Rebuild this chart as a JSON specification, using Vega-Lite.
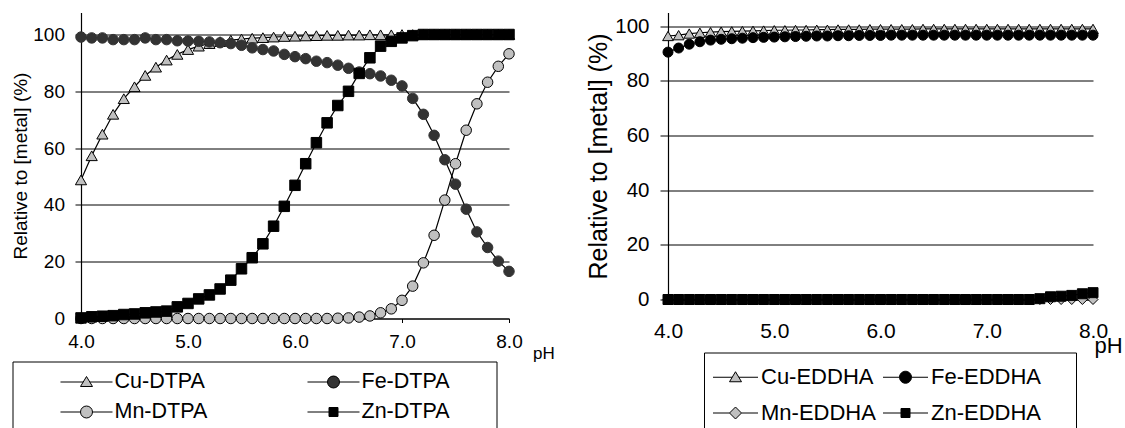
{
  "$schema": "https://vega.github.io/schema/vega-lite/v6.json",
  "padding": {"left": 11, "top": 12.5, "right": 0, "bottom": 0},
  "spacing": 31,
  "resolve": {"scale": {"shape": "independent", "fill": "independent", "stroke": "independent"}, "legend": {"shape": "independent", "fill": "independent", "stroke": "independent"}},
  "datasets": {
    "dtpa": [
      {"pH": 4.0, "Cu-DTPA": 48.8, "Fe-DTPA": 99.1, "Mn-DTPA": 0, "Zn-DTPA": 0.2},
      {"pH": 4.1, "Cu-DTPA": 57.3, "Fe-DTPA": 98.8, "Mn-DTPA": 0, "Zn-DTPA": 0.6},
      {"pH": 4.2, "Cu-DTPA": 64.9, "Fe-DTPA": 98.8, "Mn-DTPA": 0, "Zn-DTPA": 0.8},
      {"pH": 4.3, "Cu-DTPA": 71.9, "Fe-DTPA": 98.2, "Mn-DTPA": 0, "Zn-DTPA": 1.0},
      {"pH": 4.4, "Cu-DTPA": 77.4, "Fe-DTPA": 98.2, "Mn-DTPA": 0, "Zn-DTPA": 1.4},
      {"pH": 4.5, "Cu-DTPA": 81.6, "Fe-DTPA": 98.2, "Mn-DTPA": 0, "Zn-DTPA": 1.6},
      {"pH": 4.6, "Cu-DTPA": 85.6, "Fe-DTPA": 98.8, "Mn-DTPA": 0, "Zn-DTPA": 2.0},
      {"pH": 4.7, "Cu-DTPA": 88.5, "Fe-DTPA": 98.2, "Mn-DTPA": 0, "Zn-DTPA": 2.3},
      {"pH": 4.8, "Cu-DTPA": 91.0, "Fe-DTPA": 98.2, "Mn-DTPA": 0, "Zn-DTPA": 2.6},
      {"pH": 4.9, "Cu-DTPA": 93.0, "Fe-DTPA": 97.8, "Mn-DTPA": 0, "Zn-DTPA": 4.1},
      {"pH": 5.0, "Cu-DTPA": 94.7, "Fe-DTPA": 97.7, "Mn-DTPA": 0, "Zn-DTPA": 5.3},
      {"pH": 5.1, "Cu-DTPA": 95.9, "Fe-DTPA": 97.6, "Mn-DTPA": 0, "Zn-DTPA": 6.9},
      {"pH": 5.2, "Cu-DTPA": 96.8, "Fe-DTPA": 97.4, "Mn-DTPA": 0, "Zn-DTPA": 8.3},
      {"pH": 5.3, "Cu-DTPA": 97.5, "Fe-DTPA": 97.1, "Mn-DTPA": 0, "Zn-DTPA": 10.4},
      {"pH": 5.4, "Cu-DTPA": 98.0, "Fe-DTPA": 96.8, "Mn-DTPA": 0, "Zn-DTPA": 13.5},
      {"pH": 5.5, "Cu-DTPA": 98.4, "Fe-DTPA": 96.2, "Mn-DTPA": 0, "Zn-DTPA": 17.5},
      {"pH": 5.6, "Cu-DTPA": 98.7, "Fe-DTPA": 95.3, "Mn-DTPA": 0, "Zn-DTPA": 21.4},
      {"pH": 5.7, "Cu-DTPA": 98.9, "Fe-DTPA": 94.7, "Mn-DTPA": 0, "Zn-DTPA": 26.3},
      {"pH": 5.8, "Cu-DTPA": 99.1, "Fe-DTPA": 94.2, "Mn-DTPA": 0, "Zn-DTPA": 32.5},
      {"pH": 5.9, "Cu-DTPA": 99.3, "Fe-DTPA": 93.0, "Mn-DTPA": 0, "Zn-DTPA": 39.5},
      {"pH": 6.0, "Cu-DTPA": 99.4, "Fe-DTPA": 92.2, "Mn-DTPA": 0, "Zn-DTPA": 46.9},
      {"pH": 6.1, "Cu-DTPA": 99.5, "Fe-DTPA": 91.5, "Mn-DTPA": 0, "Zn-DTPA": 54.5},
      {"pH": 6.2, "Cu-DTPA": 99.6, "Fe-DTPA": 90.6, "Mn-DTPA": 0, "Zn-DTPA": 61.9},
      {"pH": 6.3, "Cu-DTPA": 99.7, "Fe-DTPA": 90.1, "Mn-DTPA": 0, "Zn-DTPA": 68.9},
      {"pH": 6.4, "Cu-DTPA": 99.7, "Fe-DTPA": 89.2, "Mn-DTPA": 0.1, "Zn-DTPA": 75.0},
      {"pH": 6.5, "Cu-DTPA": 99.8, "Fe-DTPA": 88.1, "Mn-DTPA": 0.2, "Zn-DTPA": 80.0},
      {"pH": 6.6, "Cu-DTPA": 99.8, "Fe-DTPA": 86.8, "Mn-DTPA": 0.5, "Zn-DTPA": 86.3},
      {"pH": 6.7, "Cu-DTPA": 99.9, "Fe-DTPA": 86.2, "Mn-DTPA": 0.9, "Zn-DTPA": 91.8},
      {"pH": 6.8, "Cu-DTPA": 99.9, "Fe-DTPA": 85.4, "Mn-DTPA": 2.0, "Zn-DTPA": 95.9},
      {"pH": 6.9, "Cu-DTPA": 99.9, "Fe-DTPA": 83.9, "Mn-DTPA": 3.4, "Zn-DTPA": 97.6},
      {"pH": 7.0, "Cu-DTPA": 100, "Fe-DTPA": 81.9, "Mn-DTPA": 6.4, "Zn-DTPA": 98.8},
      {"pH": 7.1, "Cu-DTPA": 100, "Fe-DTPA": 77.5, "Mn-DTPA": 11.4, "Zn-DTPA": 99.6},
      {"pH": 7.2, "Cu-DTPA": 100, "Fe-DTPA": 71.9, "Mn-DTPA": 19.6, "Zn-DTPA": 100},
      {"pH": 7.3, "Cu-DTPA": 100, "Fe-DTPA": 64.5, "Mn-DTPA": 29.3, "Zn-DTPA": 100},
      {"pH": 7.4, "Cu-DTPA": 100, "Fe-DTPA": 55.9, "Mn-DTPA": 41.7, "Zn-DTPA": 100},
      {"pH": 7.5, "Cu-DTPA": 100, "Fe-DTPA": 47.3, "Mn-DTPA": 54.5, "Zn-DTPA": 100},
      {"pH": 7.6, "Cu-DTPA": 100, "Fe-DTPA": 38.5, "Mn-DTPA": 66.3, "Zn-DTPA": 100},
      {"pH": 7.7, "Cu-DTPA": 100, "Fe-DTPA": 30.5, "Mn-DTPA": 75.6, "Zn-DTPA": 100},
      {"pH": 7.8, "Cu-DTPA": 100, "Fe-DTPA": 25.0, "Mn-DTPA": 83.2, "Zn-DTPA": 100},
      {"pH": 7.9, "Cu-DTPA": 100, "Fe-DTPA": 20.2, "Mn-DTPA": 88.8, "Zn-DTPA": 100},
      {"pH": 8.0, "Cu-DTPA": 100, "Fe-DTPA": 16.6, "Mn-DTPA": 93.2, "Zn-DTPA": 100}
    ],
    "eddha": [
      {"pH": 4.0, "Cu-EDDHA": 96.4, "Fe-EDDHA": 90.5, "Mn-EDDHA": 0, "Zn-EDDHA": 0},
      {"pH": 4.1, "Cu-EDDHA": 96.7, "Fe-EDDHA": 92.0, "Mn-EDDHA": 0, "Zn-EDDHA": 0},
      {"pH": 4.2, "Cu-EDDHA": 97.3, "Fe-EDDHA": 93.4, "Mn-EDDHA": 0, "Zn-EDDHA": 0},
      {"pH": 4.3, "Cu-EDDHA": 97.6, "Fe-EDDHA": 94.3, "Mn-EDDHA": 0, "Zn-EDDHA": 0},
      {"pH": 4.4, "Cu-EDDHA": 97.8, "Fe-EDDHA": 94.9, "Mn-EDDHA": 0, "Zn-EDDHA": 0},
      {"pH": 4.5, "Cu-EDDHA": 98.0, "Fe-EDDHA": 95.2, "Mn-EDDHA": 0, "Zn-EDDHA": 0},
      {"pH": 4.6, "Cu-EDDHA": 98.1, "Fe-EDDHA": 95.4, "Mn-EDDHA": 0, "Zn-EDDHA": 0},
      {"pH": 4.7, "Cu-EDDHA": 98.2, "Fe-EDDHA": 95.6, "Mn-EDDHA": 0, "Zn-EDDHA": 0},
      {"pH": 4.8, "Cu-EDDHA": 98.3, "Fe-EDDHA": 95.8, "Mn-EDDHA": 0, "Zn-EDDHA": 0},
      {"pH": 4.9, "Cu-EDDHA": 98.4, "Fe-EDDHA": 95.9, "Mn-EDDHA": 0, "Zn-EDDHA": 0},
      {"pH": 5.0, "Cu-EDDHA": 98.5, "Fe-EDDHA": 96.0, "Mn-EDDHA": 0, "Zn-EDDHA": 0},
      {"pH": 5.1, "Cu-EDDHA": 98.5, "Fe-EDDHA": 96.1, "Mn-EDDHA": 0, "Zn-EDDHA": 0},
      {"pH": 5.2, "Cu-EDDHA": 98.6, "Fe-EDDHA": 96.2, "Mn-EDDHA": 0, "Zn-EDDHA": 0},
      {"pH": 5.3, "Cu-EDDHA": 98.6, "Fe-EDDHA": 96.3, "Mn-EDDHA": 0, "Zn-EDDHA": 0},
      {"pH": 5.4, "Cu-EDDHA": 98.7, "Fe-EDDHA": 96.4, "Mn-EDDHA": 0, "Zn-EDDHA": 0},
      {"pH": 5.5, "Cu-EDDHA": 98.7, "Fe-EDDHA": 96.4, "Mn-EDDHA": 0, "Zn-EDDHA": 0},
      {"pH": 5.6, "Cu-EDDHA": 98.8, "Fe-EDDHA": 96.5, "Mn-EDDHA": 0, "Zn-EDDHA": 0},
      {"pH": 5.7, "Cu-EDDHA": 98.8, "Fe-EDDHA": 96.5, "Mn-EDDHA": 0, "Zn-EDDHA": 0},
      {"pH": 5.8, "Cu-EDDHA": 98.8, "Fe-EDDHA": 96.6, "Mn-EDDHA": 0, "Zn-EDDHA": 0},
      {"pH": 5.9, "Cu-EDDHA": 98.9, "Fe-EDDHA": 96.6, "Mn-EDDHA": 0, "Zn-EDDHA": 0},
      {"pH": 6.0, "Cu-EDDHA": 98.9, "Fe-EDDHA": 96.6, "Mn-EDDHA": 0, "Zn-EDDHA": 0},
      {"pH": 6.1, "Cu-EDDHA": 98.9, "Fe-EDDHA": 96.7, "Mn-EDDHA": 0, "Zn-EDDHA": 0},
      {"pH": 6.2, "Cu-EDDHA": 98.9, "Fe-EDDHA": 96.7, "Mn-EDDHA": 0, "Zn-EDDHA": 0},
      {"pH": 6.3, "Cu-EDDHA": 98.9, "Fe-EDDHA": 96.7, "Mn-EDDHA": 0, "Zn-EDDHA": 0},
      {"pH": 6.4, "Cu-EDDHA": 99.0, "Fe-EDDHA": 96.7, "Mn-EDDHA": 0, "Zn-EDDHA": 0},
      {"pH": 6.5, "Cu-EDDHA": 99.0, "Fe-EDDHA": 96.7, "Mn-EDDHA": 0, "Zn-EDDHA": 0},
      {"pH": 6.6, "Cu-EDDHA": 99.0, "Fe-EDDHA": 96.7, "Mn-EDDHA": 0, "Zn-EDDHA": 0},
      {"pH": 6.7, "Cu-EDDHA": 99.0, "Fe-EDDHA": 96.7, "Mn-EDDHA": 0, "Zn-EDDHA": 0},
      {"pH": 6.8, "Cu-EDDHA": 99.0, "Fe-EDDHA": 96.7, "Mn-EDDHA": 0, "Zn-EDDHA": 0},
      {"pH": 6.9, "Cu-EDDHA": 99.0, "Fe-EDDHA": 96.7, "Mn-EDDHA": 0, "Zn-EDDHA": 0},
      {"pH": 7.0, "Cu-EDDHA": 99.0, "Fe-EDDHA": 96.7, "Mn-EDDHA": 0, "Zn-EDDHA": 0},
      {"pH": 7.1, "Cu-EDDHA": 99.0, "Fe-EDDHA": 96.7, "Mn-EDDHA": 0, "Zn-EDDHA": 0},
      {"pH": 7.2, "Cu-EDDHA": 99.0, "Fe-EDDHA": 96.7, "Mn-EDDHA": 0, "Zn-EDDHA": 0},
      {"pH": 7.3, "Cu-EDDHA": 99.0, "Fe-EDDHA": 96.7, "Mn-EDDHA": 0, "Zn-EDDHA": 0},
      {"pH": 7.4, "Cu-EDDHA": 99.0, "Fe-EDDHA": 96.7, "Mn-EDDHA": 0, "Zn-EDDHA": 0},
      {"pH": 7.5, "Cu-EDDHA": 99.0, "Fe-EDDHA": 96.7, "Mn-EDDHA": 0, "Zn-EDDHA": 0.3},
      {"pH": 7.6, "Cu-EDDHA": 99.0, "Fe-EDDHA": 96.7, "Mn-EDDHA": 0, "Zn-EDDHA": 1.0},
      {"pH": 7.7, "Cu-EDDHA": 99.0, "Fe-EDDHA": 96.7, "Mn-EDDHA": 0, "Zn-EDDHA": 1.2},
      {"pH": 7.8, "Cu-EDDHA": 99.0, "Fe-EDDHA": 96.7, "Mn-EDDHA": 0, "Zn-EDDHA": 1.5},
      {"pH": 7.9, "Cu-EDDHA": 99.0, "Fe-EDDHA": 96.7, "Mn-EDDHA": 0, "Zn-EDDHA": 2.1},
      {"pH": 8.0, "Cu-EDDHA": 99.0, "Fe-EDDHA": 96.7, "Mn-EDDHA": 0, "Zn-EDDHA": 2.5}
    ]
  },
  "hconcat": [
    {
      "width": 428,
      "height": 306,
      "data": {"name": "dtpa"},
      "transform": [{"fold": ["Cu-DTPA", "Fe-DTPA", "Mn-DTPA", "Zn-DTPA"], "as": ["series", "value"]}],
      "encoding": {
        "x": {"field": "pH", "type": "quantitative", "scale": {"domain": [4, 8], "nice": false, "zero": false},
          "axis": {"values": [4, 5, 6, 7, 8], "format": ".1f", "grid": false, "tickSize": 4, "labelFontSize": 19, "labelPadding": 9.6, "labelFlush": false,
            "title": "pH", "titleFontSize": 17, "titleFontWeight": "normal", "titleX": 451.5, "titleY": 40, "titleAlign": "left", "titleBaseline": "alphabetic"}},
        "y": {"field": "value", "type": "quantitative", "scale": {"domain": [0, 107.75], "nice": false},
          "axis": {"values": [0, 20, 40, 60, 80, 100], "grid": true, "tickSize": 6, "labelPadding": 10.5, "labelFontSize": 19, "labelFlush": false,
            "title": "Relative to [metal] (%)", "titleFontSize": 19, "titleFontWeight": "normal", "titleX": -60.5, "titleBaseline": "middle"}}
      },
      "layer": [
        {"data": {"values": [{}]}, "mark": {"type": "rule", "color": "#808080", "strokeWidth": 1.2},
         "encoding": {"x": {"datum": 4, "type": "quantitative"}, "x2": {"datum": 8}, "y": {"datum": 105, "type": "quantitative"}}},
        {"data": {"values": [{}]}, "mark": {"type": "rule", "color": "#808080", "strokeWidth": 1.2},
         "encoding": {"x": {"datum": 8, "type": "quantitative"}, "y": {"datum": 0, "type": "quantitative"}, "y2": {"datum": 105}}},
        {"mark": {"type": "line", "color": "black", "strokeWidth": 1.2},
         "encoding": {"detail": {"field": "series", "type": "nominal"}}},
        {"transform": [{"filter": "datum.series === 'Cu-DTPA'"}],
         "mark": {"type": "point", "shape": "triangle-up", "filled": true, "fill": "#c0c0c0", "stroke": "black", "strokeWidth": 1, "opacity": 1, "size": 125}},
        {"transform": [{"filter": "datum.series === 'Fe-DTPA'"}],
         "mark": {"type": "point", "shape": "circle", "filled": true, "fill": "#333333", "stroke": "#333333", "strokeWidth": 1, "opacity": 1, "size": 110}},
        {"transform": [{"filter": "datum.series === 'Mn-DTPA'"}],
         "mark": {"type": "point", "shape": "circle", "filled": true, "fill": "#c0c0c0", "stroke": "black", "strokeWidth": 1, "opacity": 1, "size": 110}},
        {"transform": [{"filter": "datum.series === 'Zn-DTPA'"}],
         "mark": {"type": "point", "shape": "square", "filled": true, "fill": "#000000", "stroke": "black", "strokeWidth": 1, "opacity": 1, "size": 110}},
        {"transform": [{"filter": "datum.pH > 100"}],
         "mark": {"type": "point", "filled": true, "opacity": 1, "strokeWidth": 1},
         "encoding": {
           "shape": {"field": "series", "type": "nominal",
             "scale": {"domain": ["Cu-DTPA", "Fe-DTPA", "Mn-DTPA", "Zn-DTPA"],
               "range": [
                 "M-2.364,0H-0.3M0.3,0H2.364M-0.545,0.409L0.545,0.409L0,-0.5Z",
                 "M-2.364,0H-0.545M0.545,0H2.364M-0.545,0A0.545,0.545,0,1,0,0.545,0A0.545,0.545,0,1,0,-0.545,0Z",
                 "M-2.364,0H-0.545M0.545,0H2.364M-0.545,0A0.545,0.545,0,1,0,0.545,0A0.545,0.545,0,1,0,-0.545,0Z",
                 "M-2.364,0H-0.409M0.409,0H2.364M-0.409,-0.409H0.409V0.409H-0.409Z"
               ]},
             "legend": {"title": " ", "titleOrient": "right", "titleFontSize": 4, "titlePadding": 38, "orient": "none", "legendX": -68.5, "legendY": 349, "columns": 2, "direction": "horizontal",
               "symbolSize": 484, "symbolOffset": 53.5, "labelOffset": 16.5, "labelFontSize": 21.5, "labelColor": "black", "columnPadding": 61, "rowPadding": 8, "padding": 9,
               "strokeColor": "black", "symbolStrokeWidth": 1, "labelLimit": 400}},
           "fill": {"field": "series", "type": "nominal",
             "scale": {"domain": ["Cu-DTPA", "Fe-DTPA", "Mn-DTPA", "Zn-DTPA"], "range": ["#c0c0c0", "#333333", "#c0c0c0", "#000000"]},
             "legend": {"title": " ", "titleOrient": "right", "titleFontSize": 4, "titlePadding": 38, "orient": "none", "legendX": -68.5, "legendY": 349, "columns": 2, "direction": "horizontal",
               "symbolSize": 484, "symbolOffset": 53.5, "labelOffset": 16.5, "labelFontSize": 21.5, "labelColor": "black", "columnPadding": 61, "rowPadding": 8, "padding": 9,
               "strokeColor": "black", "symbolStrokeWidth": 1, "labelLimit": 400}},
           "stroke": {"field": "series", "type": "nominal",
             "scale": {"domain": ["Cu-DTPA", "Fe-DTPA", "Mn-DTPA", "Zn-DTPA"], "range": ["#000000", "#000000", "#000000", "#000000"]},
             "legend": {"title": " ", "titleOrient": "right", "titleFontSize": 4, "titlePadding": 38, "orient": "none", "legendX": -68.5, "legendY": 349, "columns": 2, "direction": "horizontal",
               "symbolSize": 484, "symbolOffset": 53.5, "labelOffset": 16.5, "labelFontSize": 21.5, "labelColor": "black", "columnPadding": 61, "rowPadding": 8, "padding": 9,
               "strokeColor": "black", "symbolStrokeWidth": 1, "labelLimit": 400}}
         }}
      ]
    },
    {
      "width": 425,
      "height": 287,
      "data": {"name": "eddha"},
      "transform": [{"fold": ["Cu-EDDHA", "Fe-EDDHA", "Mn-EDDHA", "Zn-EDDHA"], "as": ["series", "value"]}],
      "encoding": {
        "x": {"field": "pH", "type": "quantitative", "scale": {"domain": [4, 8], "nice": false, "zero": false},
          "axis": {"values": [4, 5, 6, 7, 8], "format": ".1f", "grid": false, "tickSize": 4, "labelFontSize": 21, "labelPadding": 16.5, "labelFlush": false,
            "title": "pH", "titleFontSize": 22, "titleFontWeight": "normal", "titleX": 426, "titleY": 53, "titleAlign": "left", "titleBaseline": "alphabetic"}},
        "y": {"field": "value", "type": "quantitative", "scale": {"domain": [0, 105], "nice": false},
          "axis": {"values": [0, 20, 40, 60, 80, 100], "grid": true, "tickSize": 8, "labelPadding": 11, "labelFontSize": 20.5, "labelFlush": false,
            "title": "Relative to [metal] (%)", "titleFontSize": 25, "titleFontWeight": "normal", "titleX": -70, "titleBaseline": "middle"}}
      },
      "layer": [
        {"data": {"values": [{}]}, "mark": {"type": "rule", "color": "#808080", "strokeWidth": 1.2},
         "encoding": {"x": {"datum": 4, "type": "quantitative"}, "x2": {"datum": 8}, "y": {"datum": 105, "type": "quantitative"}}},
        {"data": {"values": [{}]}, "mark": {"type": "rule", "color": "#808080", "strokeWidth": 1.2},
         "encoding": {"x": {"datum": 8, "type": "quantitative"}, "y": {"datum": 0, "type": "quantitative"}, "y2": {"datum": 105}}},
        {"mark": {"type": "line", "color": "black", "strokeWidth": 1.2},
         "encoding": {"detail": {"field": "series", "type": "nominal"}}},
        {"transform": [{"filter": "datum.series === 'Cu-EDDHA'"}],
         "mark": {"type": "point", "shape": "triangle-up", "filled": true, "fill": "#c0c0c0", "stroke": "black", "strokeWidth": 1, "opacity": 1, "size": 115}},
        {"transform": [{"filter": "datum.series === 'Fe-EDDHA'"}],
         "mark": {"type": "point", "shape": "circle", "filled": true, "fill": "#000000", "stroke": "black", "strokeWidth": 1, "opacity": 1, "size": 100}},
        {"transform": [{"filter": "datum.series === 'Mn-EDDHA'"}],
         "mark": {"type": "point", "shape": "diamond", "filled": true, "fill": "#c0c0c0", "stroke": "black", "strokeWidth": 1, "opacity": 1, "size": 100}},
        {"transform": [{"filter": "datum.series === 'Zn-EDDHA'"}],
         "mark": {"type": "point", "shape": "square", "filled": true, "fill": "#000000", "stroke": "black", "strokeWidth": 1, "opacity": 1, "size": 100}},
        {"transform": [{"filter": "datum.pH > 100"}],
         "mark": {"type": "point", "filled": true, "opacity": 1, "strokeWidth": 1},
         "encoding": {
           "shape": {"field": "series", "type": "nominal",
             "scale": {"domain": ["Cu-EDDHA", "Fe-EDDHA", "Mn-EDDHA", "Zn-EDDHA"],
               "range": [
                 "M-1.5,0H-0.22M0.22,0H1.5M-0.4,0.3L0.4,0.3L0,-0.367Z",
                 "M-1.5,0H-0.4M0.4,0H1.5M-0.4,0A0.4,0.4,0,1,0,0.4,0A0.4,0.4,0,1,0,-0.4,0Z",
                 "M-1.5,0H-0.4M0.4,0H1.5M0,-0.4L0.4,0L0,0.4L-0.4,0Z",
                 "M-1.5,0H-0.3M0.3,0H1.5M-0.3,-0.3H0.3V0.3H-0.3Z"
               ]},
             "legend": {"title": " ", "titleOrient": "right", "titleFontSize": 4, "titlePadding": 26, "orient": "none", "legendX": 36, "legendY": 340, "columns": 2, "direction": "horizontal",
               "symbolSize": 900, "symbolOffset": 7, "labelOffset": 10, "labelFontSize": 22, "labelColor": "black", "columnPadding": 5, "rowPadding": 9, "padding": 9,
               "strokeColor": "black", "symbolStrokeWidth": 1, "labelLimit": 400}},
           "fill": {"field": "series", "type": "nominal",
             "scale": {"domain": ["Cu-EDDHA", "Fe-EDDHA", "Mn-EDDHA", "Zn-EDDHA"], "range": ["#c0c0c0", "#000000", "#c0c0c0", "#000000"]},
             "legend": {"title": " ", "titleOrient": "right", "titleFontSize": 4, "titlePadding": 26, "orient": "none", "legendX": 36, "legendY": 340, "columns": 2, "direction": "horizontal",
               "symbolSize": 900, "symbolOffset": 7, "labelOffset": 10, "labelFontSize": 22, "labelColor": "black", "columnPadding": 5, "rowPadding": 9, "padding": 9,
               "strokeColor": "black", "symbolStrokeWidth": 1, "labelLimit": 400}},
           "stroke": {"field": "series", "type": "nominal",
             "scale": {"domain": ["Cu-EDDHA", "Fe-EDDHA", "Mn-EDDHA", "Zn-EDDHA"], "range": ["#000000", "#000000", "#000000", "#000000"]},
             "legend": {"title": " ", "titleOrient": "right", "titleFontSize": 4, "titlePadding": 26, "orient": "none", "legendX": 36, "legendY": 340, "columns": 2, "direction": "horizontal",
               "symbolSize": 900, "symbolOffset": 7, "labelOffset": 10, "labelFontSize": 22, "labelColor": "black", "columnPadding": 5, "rowPadding": 9, "padding": 9,
               "strokeColor": "black", "symbolStrokeWidth": 1, "labelLimit": 400}}
         }}
      ]
    }
  ],
  "config": {
    "font": "Liberation Sans",
    "view": {"stroke": null},
    "axis": {"domainColor": "black", "tickColor": "black", "labelColor": "black", "titleColor": "black", "gridColor": "black", "gridOpacity": 1, "gridWidth": 1, "domainWidth": 1.2, "tickWidth": 1, "labelOverlap": false}
  }
}
